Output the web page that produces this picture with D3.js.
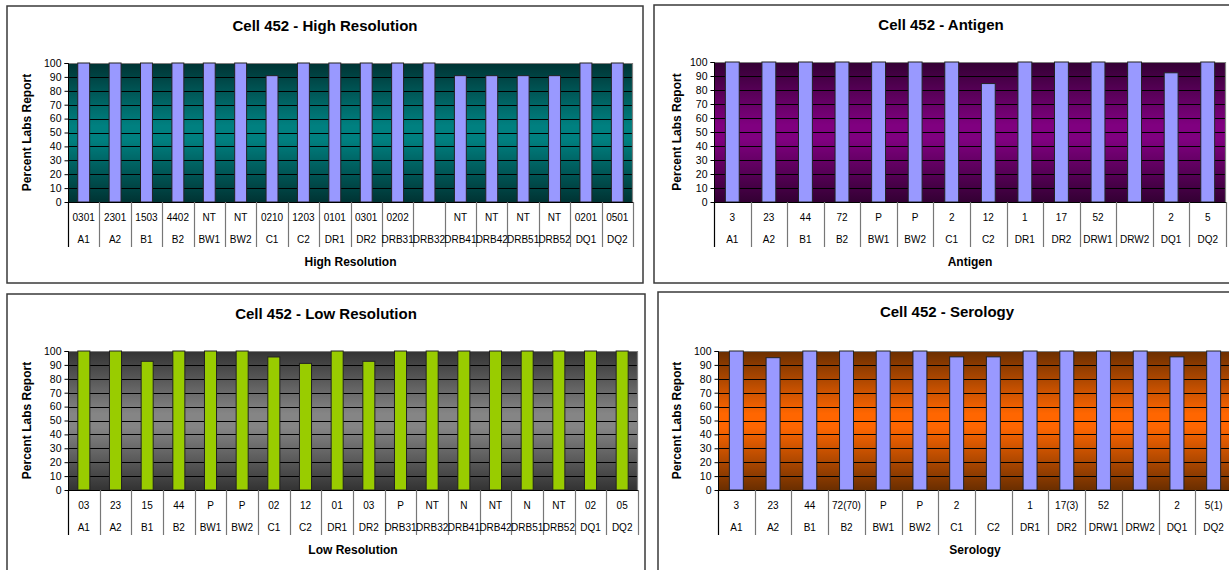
<!DOCTYPE html>
<html>
<head>
<meta charset="utf-8">
<script src="https://cdn.jsdelivr.net/npm/d3@7"></script>
<style>
  html, body { margin: 0; padding: 0; background: #ffffff; }
  svg { display: block; font-family: "Liberation Sans", Arial, sans-serif; }
</style>
</head>
<body>
<svg id="chart" width="1229" height="570"></svg>
<script>
// ---------- DATA ----------
const resCategories = ["A1","A2","B1","B2","BW1","BW2","C1","C2","DR1","DR2","DRB31","DRB32","DRB41","DRB42","DRB51","DRB52","DQ1","DQ2"];
const highLabels = ["0301","2301","1503","4402","NT","NT","0210","1203","0101","0301","0202","","NT","NT","NT","NT","0201","0501"];
const highValues = [100,100,100,100,100,100,90.9,100,100,100,100,100,90.9,90.9,90.9,90.9,100,100];
const lowLabels = ["03","23","15","44","P","P","02","12","01","03","P","NT","N","NT","N","NT","02","05"];
const lowValues = [100,100,92.6,100,100,100,95.7,91.1,100,92.6,100,100,100,100,100,100,100,100];

const agCategories = ["A1","A2","B1","B2","BW1","BW2","C1","C2","DR1","DR2","DRW1","DRW2","DQ1","DQ2"];
const antigenLabels = ["3","23","44","72","P","P","2","12","1","17","52","","2","5"];
const antigenValues = [100,100,100,100,100,100,100,84.6,100,100,100,100,92.3,100];
const serologyLabels = ["3","23","44","72(70)","P","P","2","","1","17(3)","52","","2","5(1)"];
const serologyValues = [100,95.2,100,100,100,100,95.8,95.8,100,100,100,100,95.8,100];

const yTicks = [0,10,20,30,40,50,60,70,80,90,100];

const titles = ["Cell 452 - High Resolution","Cell 452 - Antigen","Cell 452 - Low Resolution","Cell 452 - Serology"];
const axisTitles = ["High Resolution","Antigen","Low Resolution","Serology"];
const yTitle = "Percent Labs Report";

// ---------- LAYOUT ----------
const panels = [
  { id:"hi",  box:{x:7,y:6,w:636,h:277},   plot:{x:68,y:63,w:565,h:139},  titleX:325, yTitleOff:41, cats:resCategories, labels:highLabels, values:highValues,
    grad:["#003333","#008080"], bar:"#9999FF", title:titles[0], axisTitle:axisTitles[0] },
  { id:"ag",  box:{x:654,y:5,w:600,h:278},  plot:{x:714,y:62,w:512,h:140},  titleX:941, yTitleOff:37, cats:agCategories, labels:antigenLabels, values:antigenValues,
    grad:["#330033","#800080"], bar:"#9999FF", title:titles[1], axisTitle:axisTitles[1] },
  { id:"lo",  box:{x:7,y:294,w:638,h:300},  plot:{x:68,y:351,w:570,h:139}, titleX:326, yTitleOff:41, cats:resCategories, labels:lowLabels, values:lowValues,
    grad:["#333333","#858585"], bar:"#99CC00", title:titles[2], axisTitle:axisTitles[2] },
  { id:"se",  box:{x:658,y:292,w:600,h:300}, plot:{x:718,y:351,w:514,h:139}, titleX:947, yTitleOff:41, cats:agCategories, labels:serologyLabels, values:serologyValues,
    grad:["#6a2e00","#FF6600"], bar:"#9999FF", title:titles[3], axisTitle:axisTitles[3] }
];

const svg = d3.select("#chart");
const defs = svg.append("defs");

panels.forEach(p => {
  const g = svg.append("g");
  const P = p.plot;

  // panel frame
  g.append("rect")
    .attr("x", p.box.x).attr("y", p.box.y).attr("width", p.box.w).attr("height", p.box.h)
    .attr("fill", "#ffffff").attr("stroke", "#3a3a3a").attr("stroke-width", 1.5);

  // gradient
  const gr = defs.append("linearGradient").attr("id", "g-" + p.id)
    .attr("x1", 0).attr("y1", 0).attr("x2", 0).attr("y2", 1);
  gr.append("stop").attr("offset", "0%").attr("stop-color", p.grad[0]);
  gr.append("stop").attr("offset", "45%").attr("stop-color", p.grad[1]);
  gr.append("stop").attr("offset", "55%").attr("stop-color", p.grad[1]);
  gr.append("stop").attr("offset", "100%").attr("stop-color", p.grad[0]);

  const x = d3.scaleBand().domain(p.cats).range([P.x, P.x + P.w]).padding(0);
  const y = d3.scaleLinear().domain([0, 100]).range([P.y + P.h, P.y]);

  // plot background
  g.append("rect").attr("x", P.x).attr("y", P.y).attr("width", P.w).attr("height", P.h)
    .attr("fill", "url(#g-" + p.id + ")");

  // gridlines
  g.append("g").selectAll("line").data(yTicks.filter(t => t > 0 && t < 100)).join("line")
    .attr("x1", P.x).attr("x2", P.x + P.w)
    .attr("y1", d => Math.round(y(d)) + 0.5).attr("y2", d => Math.round(y(d)) + 0.5)
    .attr("stroke", "#000").attr("stroke-width", 1);

  // top & right plot border (grey)
  g.append("path")
    .attr("d", `M${P.x},${P.y + 0.5}H${P.x + P.w - 0.5}V${P.y + P.h}`)
    .attr("fill", "none").attr("stroke", "#808080").attr("stroke-width", 1.2);

  // bars
  const bw = x.bandwidth() * 0.38;
  g.append("g").selectAll("rect").data(p.values).join("rect")
    .attr("x", (d, i) => x(p.cats[i]) + (x.bandwidth() - bw) / 2)
    .attr("y", d => y(d))
    .attr("width", bw)
    .attr("height", d => y(0) - y(d))
    .attr("fill", p.bar).attr("stroke", "#222").attr("stroke-width", 1);

  // y axis
  const yAxis = d3.axisLeft(y).tickValues(yTicks).tickSize(4).tickPadding(3);
  const ya = g.append("g").attr("transform", `translate(${P.x + 0.5},0)`).call(yAxis);
  ya.select(".domain").attr("stroke", "#000").attr("d", `M-4,${P.y + 0.5}H0V${P.y + P.h}`);
  ya.selectAll(".tick line").attr("stroke", "#000");
  ya.selectAll(".tick text").attr("font-size", 10.5).attr("fill", "#000")
    .attr("font-family", "Liberation Sans, Arial, sans-serif");

  // x axis line
  g.append("line").attr("x1", P.x).attr("x2", P.x + P.w)
    .attr("y1", P.y + P.h + 0.5).attr("y2", P.y + P.h + 0.5)
    .attr("stroke", "#000").attr("stroke-width", 1);

  // category table separators
  const bounds = p.cats.map(c => x(c)).concat([P.x + P.w]);
  g.append("g").selectAll("line").data(bounds).join("line")
    .attr("x1", d => Math.round(d) + 0.5).attr("x2", d => Math.round(d) + 0.5)
    .attr("y1", P.y + P.h).attr("y2", P.y + P.h + 45)
    .attr("stroke", (d, i) => i === 0 ? "#000" : "#777").attr("stroke-width", 1.2);

  // category labels: inner (allele) row and outer (locus) row
  const cx = c => x(c) + x.bandwidth() / 2;
  g.append("g").selectAll("text").data(p.cats).join("text")
    .attr("x", (c) => cx(c)).attr("y", P.y + P.h + 19)
    .attr("text-anchor", "middle").attr("font-size", 10).attr("fill", "#000")
    .text((c, i) => p.labels[i]);
  g.append("g").selectAll("text").data(p.cats).join("text")
    .attr("x", c => cx(c)).attr("y", P.y + P.h + 41)
    .attr("text-anchor", "middle").attr("font-size", 10).attr("fill", "#000")
    .text(c => c);

  // titles
  g.append("text").attr("x", p.titleX).attr("y", p.box.y + 25)
    .attr("text-anchor", "middle").attr("font-size", 15).attr("font-weight", "bold")
    .text(p.title);
  g.append("text").attr("x", P.x + P.w / 2).attr("y", P.y + P.h + 64)
    .attr("text-anchor", "middle").attr("font-size", 12).attr("font-weight", "bold")
    .text(p.axisTitle);
  g.append("text")
    .attr("transform", `translate(${P.x - p.yTitleOff},${P.y + P.h / 2}) rotate(-90)`)
    .attr("text-anchor", "middle").attr("dominant-baseline", "central")
    .attr("font-size", 12).attr("font-weight", "bold")
    .text(yTitle);
});
</script>
</body>
</html>
